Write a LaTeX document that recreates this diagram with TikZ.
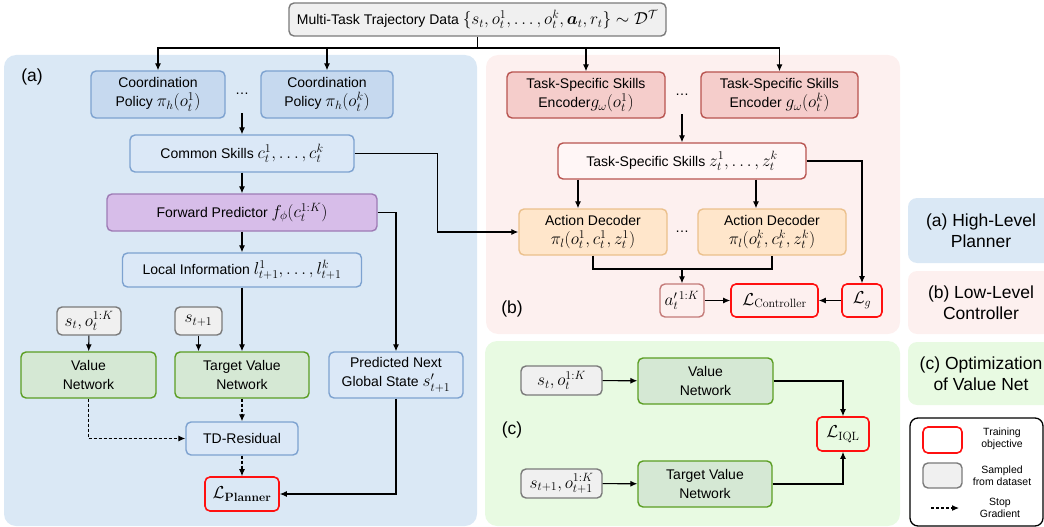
\documentclass[tikz,border=0pt]{standalone}
\usepackage{amsmath,bm}
\usepackage[no-math]{fontspec}
\setmainfont{Liberation Sans}
\usetikzlibrary{arrows.meta}
\DeclareMathSizes{14}{16}{12}{10}
\definecolor{panelA}{HTML}{DAE8F5}
\definecolor{panelB}{HTML}{FDF0EF}
\definecolor{panelC}{HTML}{E8FAE2}
\definecolor{polfill}{HTML}{C6D9EF}
\definecolor{bluefill}{HTML}{DBE8F7}
\definecolor{blueline}{HTML}{7DA2D0}
\definecolor{purfill}{HTML}{D7BDE9}
\definecolor{purline}{HTML}{9E7BB5}
\definecolor{encfill}{HTML}{F5CDCB}
\definecolor{encline}{HTML}{B85450}
\definecolor{tssfill}{HTML}{FFF6F6}
\definecolor{decfill}{HTML}{FFE6CB}
\definecolor{decline}{HTML}{EBC08C}
\definecolor{valfill}{HTML}{D5E8D4}
\definecolor{valline}{HTML}{5B9E23}
\definecolor{smpfill}{HTML}{F0F0F0}
\definecolor{smpline}{HTML}{7A7A7A}
\definecolor{objline}{HTML}{FF1010}
\definecolor{aline}{HTML}{C47A78}

\begin{document}
\begin{tikzpicture}[
  x=1pt, y=-1pt,
  every node/.style={font=\fontsize{14}{19}\selectfont},
  boxsize/.style 2 args={minimum width=#1pt, minimum height=#2pt},
  box/.style={draw, rounded corners=5pt, align=center, inner sep=1pt, line width=1.4pt},
  databox/.style={box, draw=smpline, fill=smpfill},
  polbox/.style={box, draw=blueline, fill=polfill},
  bluebox/.style={box, draw=blueline, fill=bluefill},
  purbox/.style={box, draw=purline, fill=purfill},
  encbox/.style={box, draw=encline, fill=encfill},
  tssbox/.style={box, draw=encline, fill=tssfill},
  decbox/.style={box, draw=decline, fill=decfill},
  valbox/.style={box, draw=valline, fill=valfill},
  smpbox/.style={box, draw=smpline, fill=smpfill},
  objbox/.style={box, draw=objline, line width=1.6pt},
  abox/.style={box, draw=aline},
  sidebox/.style={rounded corners=9pt, align=center, inner sep=0pt, font=\fontsize{17.5}{20.5}\selectfont},
  tag/.style={font=\fontsize{17.5}{20}\selectfont},
  legtext/.style={align=center, font=\fontsize{10.5}{12}\selectfont},
  flow/.style={-{Latex[length=7pt,width=6pt]}, line width=1.1pt},
  sg/.style={flow, dashed, dash pattern=on 3pt off 2pt}
]
\useasboundingbox (0,0) rectangle (1044,527);

\fill[panelA, rounded corners=12pt] (4,55) rectangle (477,526);
\fill[panelB, rounded corners=12pt] (486,55) rectangle (900,334);
\fill[panelC, rounded corners=12pt] (485,341) rectangle (900,526);

\node[databox, boxsize={377}{33}] (data) at (477.5,19.5) {Multi-Task Trajectory Data $\{s_t,o_t^1,\dots,o_t^k,\bm{a}_t,r_t\}\sim\mathcal{D}^{\mathcal{T}}$};

\node[tag] (tagA) at (32,77) {(a)};
\node[polbox, boxsize={134}{47}] (pol1) at (158,94.5) {Coordination\\Policy $\pi_h(o_t^1)$};
\node[minimum height=38pt, inner sep=0pt] (dotsA) at (242,94) {\dots};
\node[polbox, boxsize={132}{47}] (polk) at (327,94.5) {Coordination\\Policy $\pi_h(o_t^k)$};
\node[bluebox, boxsize={224}{37}] (common) at (242,153.5) {Common Skills $c_t^1,\dots,c_t^k$};
\node[purbox, boxsize={270}{37}] (fwd) at (242,212.5) {Forward Predictor $f_\phi(c_t^{1:K})$};
\node[bluebox, boxsize={239}{34}] (local) at (242,270) {Local Information $l_{t+1}^1,\dots,l_{t+1}^k$};
\node[smpbox, boxsize={64}{28}] (smp1) at (89,321) {$s_t,o_t^{1:K}$};
\node[smpbox, boxsize={47}{28}] (smp2) at (198.5,321) {$s_{t+1}$};
\node[valbox, boxsize={135}{46}] (val) at (88.5,375) {Value\\Network};
\node[valbox, boxsize={134}{46}] (tval) at (242,375) {Target Value\\Network};
\node[bluebox, boxsize={134}{46}] (pred) at (396,375) {Predicted Next\\Global State $s'_{t+1}$};
\node[bluebox, boxsize={112}{33}] (td) at (242,438.5) {TD-Residual};
\node[objbox, boxsize={74}{34}] (lplan) at (242,494) {$\mathcal{L}_{\mathbf{Planner}}$};

\node[tag] (tagB) at (512,309) {(b)};
\node[encbox, boxsize={158}{46}] (enc1) at (586,95) {Task-Specific Skills\\Encoder$g_\omega(o_t^1)$};
\node[minimum height=38pt, inner sep=0pt] (dotsB) at (682,95) {\dots};
\node[encbox, boxsize={157}{46}] (enck) at (779.5,95) {Task-Specific Skills\\Encoder $g_\omega(o_t^k)$};
\node[tssbox, boxsize={248}{36}] (tss) at (682,161) {Task-Specific Skills $z_t^1,\dots,z_t^k$};
\node[decbox, boxsize={148}{46}] (dec1) at (593,232) {Action Decoder\\$\pi_l(o_t^1,c_t^1,z_t^1)$};
\node[inner sep=0pt] (dotsC) at (682,232) {\dots};
\node[decbox, boxsize={148}{46}] (deck) at (772,232) {Action Decoder\\$\pi_l(o_t^k,c_t^k,z_t^k)$};
\node[abox, boxsize={44}{33}] (aprime) at (682,300.5) {$a_t^{\prime\,1:K}$};
\node[objbox, boxsize={87}{33}] (lctrl) at (774.5,300.5) {$\mathcal{L}_{\mathrm{Controller}}$};
\node[objbox, boxsize={40}{33}] (lg) at (862,300.5) {$\mathcal{L}_g$};
\coordinate (join) at (682,269);

\node[tag] (tagC) at (512,430) {(c)};
\node[smpbox, boxsize={81}{29}] (smp3) at (561.5,380.5) {$s_t,o_t^{1:K}$};
\node[valbox, boxsize={135}{46}] (valc) at (705.5,381) {Value\\Network};
\node[smpbox, boxsize={81}{29}] (smp4) at (561.5,483.5) {$s_{t+1},o_{t+1}^{1:K}$};
\node[valbox, boxsize={134}{46}] (tvalc) at (705,484) {Target Value\\Network};
\node[objbox, boxsize={52}{34}] (liql) at (843,434) {$\mathcal{L}_{\mathrm{IQL}}$};

\node[sidebox, fill=panelA, boxsize={146}{65}] (sideA) at (981,230.5) {(a) High-Level\\Planner};
\node[sidebox, fill=panelB, boxsize={146}{63}] (sideB) at (981,302.5) {(b) Low-Level\\Controller};
\node[sidebox, fill=panelC, boxsize={146}{63}] (sideC) at (981,373.5) {(c) Optimization\\of Value Net};

\draw[line width=1.3pt, rounded corners=8pt] (910,418) rectangle (1043,526);
\node[objbox, boxsize={39}{26}] (legA) at (942.5,440) {};
\node[smpbox, boxsize={39}{25}] (legB) at (942.5,475.5) {};
\node[legtext] (legAtxt) at (1002,439) {Training\\objective};
\node[legtext] (legBtxt) at (1002,476) {Sampled\\from dataset};
\node[legtext] (legCtxt) at (1000,508) {Stop\\Gradient};
\coordinate (legC1) at (931,508);
\coordinate (legC2) at (959,508);
\draw[sg] (legC1) -- (legC2);

\coordinate (split) at (477.5,48);
\draw[line width=1.1pt] (data.south) -- (split);
\draw[flow] (split) -| (pol1.north);
\draw[flow] (split) -| (polk.north);
\draw[flow] (split) -| (enc1.north);
\draw[flow] (split) -| (enck.north);

\draw[flow] (dotsA.south) -- (common.north);
\draw[flow] (common) -- (fwd);
\draw[flow] (fwd) -- (local);
\draw[flow] (local) -- (tval);
\draw[flow] (common.east) -- ++(83,0) |- (dec1.west);
\draw[flow] (fwd.east) -| (pred.north);
\draw[flow] (pred.south) |- (lplan.east);
\draw[flow] (smp1) -- (val);
\draw[flow] (smp2.south) -- (smp2.south |- tval.north);
\draw[sg] (tval) -- (td);
\draw[sg] (val.south) |- (td.west);
\draw[sg] (td) -- (lplan);

\draw[flow] (dotsB.south) -- (tss.north);
\draw[flow] ([xshift=-104pt]tss.south) -- ([xshift=-15pt]dec1.north);
\draw[flow] ([xshift=74pt]tss.south) -- ([xshift=-16pt]deck.north);
\draw[flow] (tss.east) -| (lg.north);
\draw[line width=1.1pt] (dec1.south) |- (join) -| (deck.south);
\draw[flow] (join) -- (aprime.north);
\draw[flow] (aprime) -- (lctrl);
\draw[flow] (lg) -- (lctrl);

\draw[flow] (smp3) -- (valc);
\draw[flow] (smp4) -- (tvalc);
\draw[flow] (valc.east) -| (liql.north);
\draw[flow] (tvalc.east) -| (liql.south);

\end{tikzpicture}
\end{document}
